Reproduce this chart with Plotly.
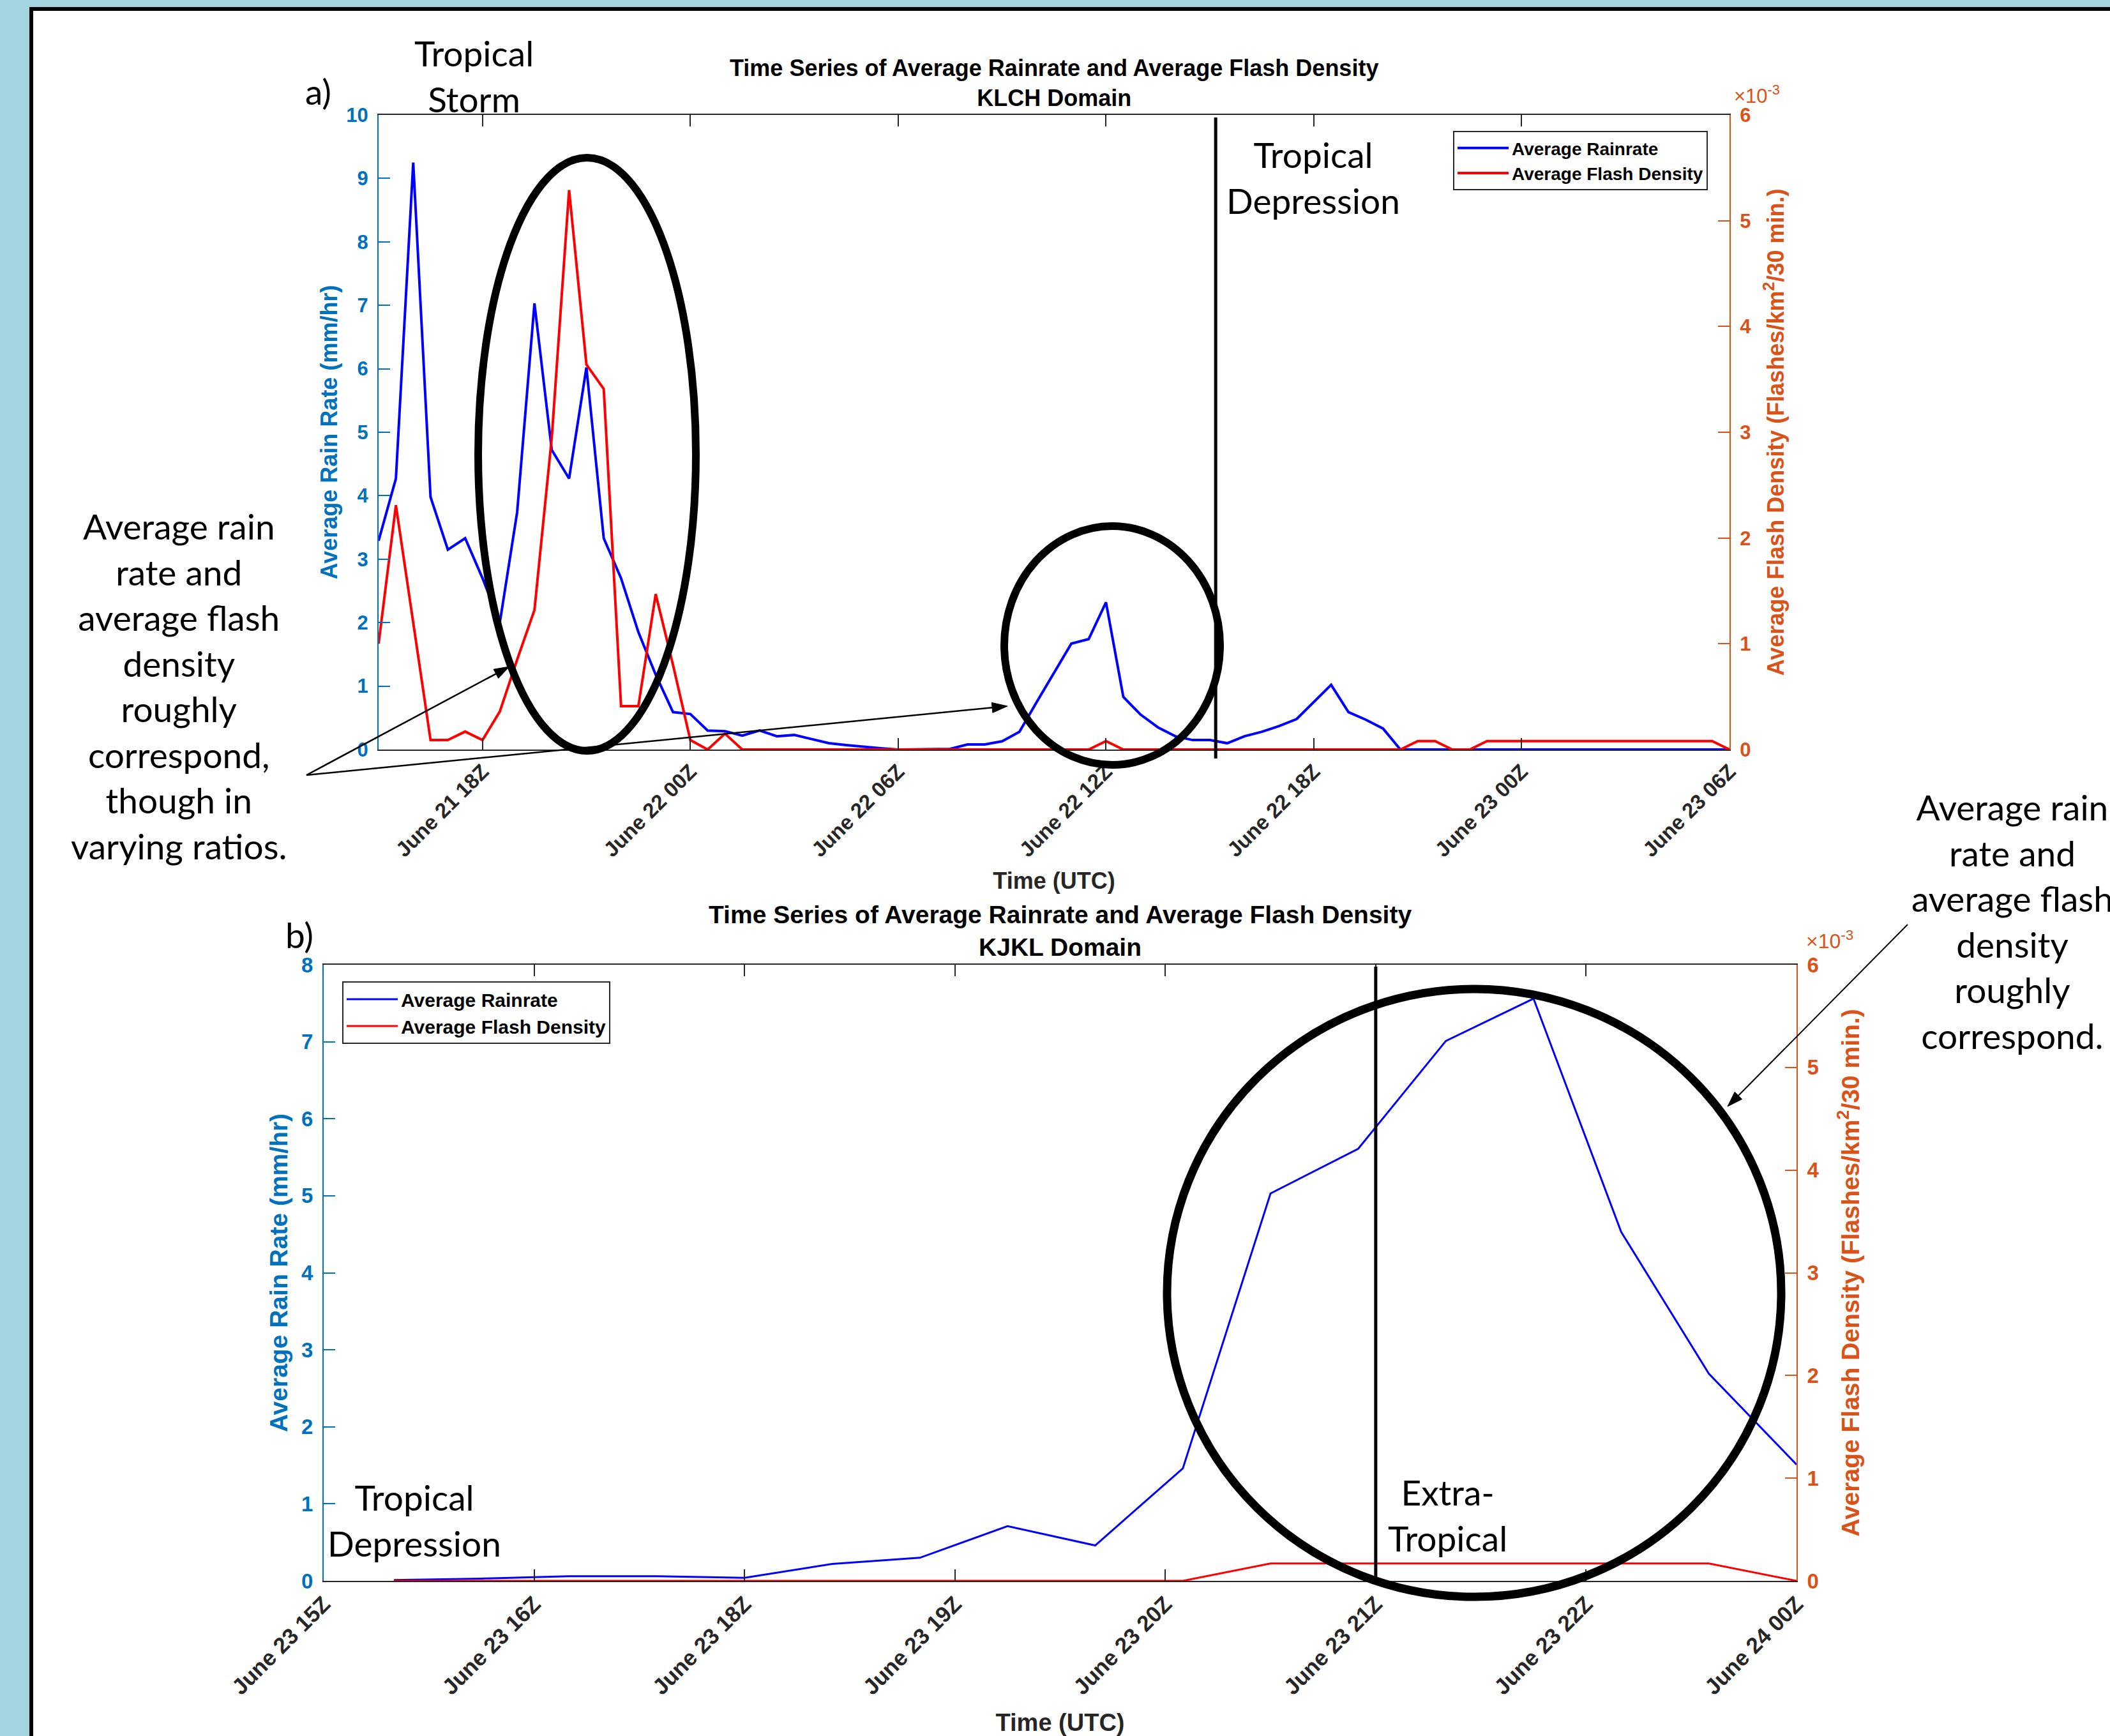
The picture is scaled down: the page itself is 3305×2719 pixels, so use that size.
import math
import pandas as pd
import plotly.graph_objects as go

W, H = 3305, 2719

# ---------------- Panel a data (KLCH domain), half-hourly ----------------
times_a = pd.date_range("2017-06-21 15:00", "2017-06-23 06:00", freq="30min")
rain_a = [3.29, 4.27, 9.25, 3.98, 3.15, 3.33, 2.70, 2.00, 3.74, 7.03,
          4.72, 4.27, 6.02, 3.33, 2.70, 1.85, 1.18, 0.59, 0.56, 0.30,
          0.29, 0.22, 0.30, 0.21, 0.23, 0.16, 0.10, 0.07, 0.04, 0.02,
          0.00, 0.00, 0.01, 0.01, 0.08, 0.08, 0.13, 0.28, 0.75, 1.22,
          1.67, 1.74, 2.32, 0.83, 0.55, 0.35, 0.21, 0.15, 0.15, 0.10,
          0.21, 0.28, 0.37, 0.48, 0.75, 1.02, 0.59, 0.47, 0.33, 0.00,
          0.00, 0.00, 0.00, 0.00, 0.00, 0.00, 0.00, 0.00, 0.00, 0.00,
          0.00, 0.00, 0.00, 0.00, 0.00, 0.00, 0.00, 0.00, 0.00]
# flash density in units of 1e-3 flashes/km^2/30 min
flash_a = [1.00, 2.31, 1.20, 0.09, 0.09, 0.17, 0.09, 0.36, 0.85, 1.32,
           2.95, 5.29, 3.64, 3.41, 0.41, 0.41, 1.47, 0.80, 0.09, 0.00,
           0.15, 0.00, 0.00, 0.00, 0.00, 0.00, 0.00, 0.00, 0.00, 0.00,
           0.00, 0.00, 0.00, 0.00, 0.00, 0.00, 0.00, 0.00, 0.00, 0.00,
           0.00, 0.00, 0.08, 0.00, 0.00, 0.00, 0.00, 0.00, 0.00, 0.00,
           0.00, 0.00, 0.00, 0.00, 0.00, 0.00, 0.00, 0.00, 0.00, 0.00,
           0.08, 0.08, 0.00, 0.00, 0.08, 0.08, 0.08, 0.08, 0.08, 0.08,
           0.08, 0.08, 0.08, 0.08, 0.08, 0.08, 0.08, 0.08, 0.00]
ticks_a = ["2017-06-21 18:00", "2017-06-22 00:00", "2017-06-22 06:00", "2017-06-22 12:00",
           "2017-06-22 18:00", "2017-06-23 00:00", "2017-06-23 06:00"]
ticklabels_a = ["June 21 18Z", "June 22 00Z", "June 22 06Z", "June 22 12Z",
                "June 22 18Z", "June 23 00Z", "June 23 06Z"]
range_a = ["2017-06-21 15:00", "2017-06-23 06:00"]
transition_a = "2017-06-22 15:10"

# ---------------- Panel b data (KJKL domain) ----------------
times_b = pd.date_range("2017-06-23 15:20", periods=17, freq="25min")
rain_b = [0.01, 0.03, 0.06, 0.06, 0.04, 0.22, 0.30, 0.71, 0.46, 1.46,
          5.03, 5.61, 7.01, 7.56, 4.53, 2.69, 1.51]
flash_b = [0.00, 0.00, 0.00, 0.00, 0.00, 0.00, 0.00, 0.00, 0.00, 0.00,
           0.17, 0.17, 0.17, 0.17, 0.17, 0.17, 0.00]
ticks_b = ["2017-06-23 15:00", "2017-06-23 16:00", "2017-06-23 17:00", "2017-06-23 18:00",
           "2017-06-23 19:00", "2017-06-23 20:00", "2017-06-23 21:00", "2017-06-23 22:00"]
ticklabels_b = ["June 23 15Z", "June 23 16Z", "June 23 18Z", "June 23 19Z",
                "June 23 20Z", "June 23 21Z", "June 23 22Z", "June 24 00Z"]
range_b = ["2017-06-23 15:00", "2017-06-23 22:00"]
transition_b = "2017-06-23 20:00"

# ---------------- styling ----------------
F_M = "Liberation Sans, Arial, Helvetica, sans-serif"
F_C = "Lato, Carlito, Calibri, sans-serif"
BLUE_AX = "#0072BD"
ORANGE_AX = "#D95319"
DARK = "#262626"
LINE_BLUE = "#0000FF"
LINE_RED = "#FF0000"


def px(x):
    return x / W


def py(y):
    return 1 - y / H


A_L, A_R, A_T, A_B = 593, 2709, 180, 1174
B_L, B_R, B_T, B_B = 507, 2814, 1511, 2476

fig = go.Figure()
fig.add_trace(go.Scatter(x=times_a, y=rain_a, mode="lines", name="Average Rainrate",
                         line=dict(color=LINE_BLUE, width=4), xaxis="x", yaxis="y", legend="legend"))
fig.add_trace(go.Scatter(x=times_a, y=flash_a, mode="lines", name="Average Flash Density",
                         line=dict(color=LINE_RED, width=4), xaxis="x", yaxis="y2", legend="legend"))
fig.add_trace(go.Scatter(x=times_b, y=rain_b, mode="lines", name="Average Rainrate",
                         line=dict(color=LINE_BLUE, width=3), xaxis="x2", yaxis="y3", legend="legend2"))
fig.add_trace(go.Scatter(x=times_b, y=flash_b, mode="lines", name="Average Flash Density",
                         line=dict(color=LINE_RED, width=3), xaxis="x2", yaxis="y4", legend="legend2"))


def xaxis_style(dom, anchor, rng, tv, tt, tsize, title_size, standoff):
    return dict(domain=dom, anchor=anchor, type="date", range=rng, tickvals=tv, ticktext=tt,
                tickangle=-45, ticks="inside", ticklen=18, tickwidth=2, tickcolor=DARK,
                showline=True, linecolor=DARK, linewidth=2, mirror="ticks",
                showgrid=False, zeroline=False, automargin=False,
                tickfont=dict(family=F_M, size=tsize, color=DARK, weight="bold"),
                title=dict(text="Time (UTC)", standoff=standoff,
                           font=dict(family=F_M, size=title_size, color=DARK, weight="bold")))


def yaxis_style(dom, anchor, rng, tv, color, tsize, title, title_size, standoff, side="left", overlay=None):
    d = dict(anchor=anchor, range=rng, tickvals=tv, ticks="inside", ticklen=18, tickwidth=2,
             tickcolor=color, showline=True, linecolor=color, linewidth=2, side=side,
             showgrid=False, zeroline=False, ticklabelstandoff=8, automargin=False,
             tickfont=dict(family=F_M, size=tsize, color=color, weight="bold"),
             title=dict(text=title, standoff=standoff,
                        font=dict(family=F_M, size=title_size, color=color, weight="bold")))
    if overlay:
        d["overlaying"] = overlay
    else:
        d["domain"] = dom
    return d


fig.update_layout(
    width=W, height=H, margin=dict(l=0, r=0, t=0, b=0, pad=0, autoexpand=False),
    paper_bgcolor="#A4D4DD", plot_bgcolor="white", showlegend=True,
    xaxis=xaxis_style([px(A_L), px(A_R)], "y", range_a, ticks_a, ticklabels_a, 33, 36, 18),
    yaxis=yaxis_style([py(A_B), py(A_T)], "x", [0, 10], list(range(0, 11)), BLUE_AX, 31,
                      "Average Rain Rate (mm/hr)", 36, 3),
    yaxis2=yaxis_style(None, "x", [0, 6], list(range(0, 7)), ORANGE_AX, 31,
                       "Average Flash Density (Flashes/km<sup>2</sup>/30 min.)", 36, 27,
                       side="right", overlay="y"),
    xaxis2=xaxis_style([px(B_L), px(B_R)], "y3", range_b, ticks_b, ticklabels_b, 35, 38, 26),
    yaxis3=yaxis_style([py(B_B), py(B_T)], "x2", [0, 8], list(range(0, 9)), BLUE_AX, 33,
                       "Average Rain Rate (mm/hr)", 39, 9),
    yaxis4=yaxis_style(None, "x2", [0, 6], list(range(0, 7)), ORANGE_AX, 33,
                       "Average Flash Density (Flashes/km<sup>2</sup>/30 min.)", 39, 36,
                       side="right", overlay="y3"),
    legend=dict(x=px(2276), y=py(205), xanchor="left", yanchor="top", bgcolor="white",
                bordercolor=DARK, borderwidth=2, itemwidth=80, tracegroupgap=0,
                font=dict(family=F_M, size=28, color="black", weight="bold")),
    legend2=dict(x=px(536), y=py(1537), xanchor="left", yanchor="top", bgcolor="white",
                 bordercolor=DARK, borderwidth=2, itemwidth=80, tracegroupgap=0,
                 font=dict(family=F_M, size=30, color="black", weight="bold")),
)

shapes = [
    # white page with black frame
    dict(type="rect", xref="paper", yref="paper", x0=px(49), y0=py(14), x1=px(3340), y1=py(2760),
         fillcolor="white", line=dict(color="black", width=6), layer="below"),
    # ellipses
    dict(type="circle", xref="paper", yref="paper", x0=px(749), x1=px(1090), y0=py(247), y1=py(1176),
         line=dict(color="black", width=12), layer="above"),
    dict(type="circle", xref="paper", yref="paper", x0=px(1573), x1=px(1911), y0=py(824), y1=py(1198),
         line=dict(color="black", width=12), layer="above"),
    dict(type="circle", xref="paper", yref="paper", x0=px(1828), x1=px(2790), y0=py(1549), y1=py(2501),
         line=dict(color="black", width=13), layer="above"),
    # phase transition lines
    dict(type="line", xref="x", yref="paper", x0=transition_a, x1=transition_a, y0=py(184), y1=py(1188),
         line=dict(color="black", width=5), layer="above"),
    dict(type="line", xref="x2", yref="paper", x0=transition_b, x1=transition_b, y0=py(1514), y1=py(2477),
         line=dict(color="black", width=5), layer="above"),
]


def arrow(tail, head, width=2.5, head_len=24, head_half=8):
    dx, dy = head[0] - tail[0], head[1] - tail[1]
    n = math.hypot(dx, dy)
    ux, uy = dx / n, dy / n
    bx, by = head[0] - ux * head_len, head[1] - uy * head_len
    shapes.append(dict(type="line", xref="paper", yref="paper",
                       x0=px(tail[0]), y0=py(tail[1]), x1=px(bx), y1=py(by),
                       line=dict(color="black", width=width), layer="above"))
    p1 = (bx - uy * head_half, by + ux * head_half)
    p2 = (bx + uy * head_half, by - ux * head_half)
    path = "M{:.5f},{:.5f} L{:.5f},{:.5f} L{:.5f},{:.5f} Z".format(
        px(head[0]), py(head[1]), px(p1[0]), py(p1[1]), px(p2[0]), py(p2[1]))
    shapes.append(dict(type="path", xref="paper", yref="paper", path=path,
                       fillcolor="black", line=dict(color="black", width=1), layer="above"))


arrow((480, 1214), (798, 1044))
arrow((480, 1214), (1578, 1106))
arrow((2988, 1448), (2706, 1733), 2)

fig.update_layout(shapes=shapes)

ann = []


def note(text, x, y, size=55):
    ann.append(dict(text=text, x=px(x), y=py(y), xref="paper", yref="paper", showarrow=False,
                    xanchor="center", yanchor="middle", align="center",
                    font=dict(family=F_C, size=size, color="black")))


note("a)", 498, 143)
note("b)", 469, 1464)
note("Tropical<br>Storm", 742, 119)
note("Tropical<br>Depression", 2057, 278)
note("Tropical<br>Depression", 649, 2381)
note("Extra-<br>Tropical", 2267, 2373)
note("Average rain<br>rate and<br>average flash<br>density<br>roughly<br>correspond,<br>though in<br>varying ratios.", 280, 1074)
note("Average rain<br>rate and<br>average flash<br>density<br>roughly<br>correspond.", 3152, 1443)

# panel titles
ann.append(dict(text="Time Series of Average Rainrate and Average Flash Density<br>KLCH Domain",
                x=px(1651), y=py(130), xref="paper", yref="paper", showarrow=False,
                xanchor="center", yanchor="middle",
                font=dict(family=F_M, size=36, color="black", weight="bold")))
ann.append(dict(text="Time Series of Average Rainrate and Average Flash Density<br>KJKL Domain",
                x=px(1660), y=py(1458), xref="paper", yref="paper", showarrow=False,
                xanchor="center", yanchor="middle",
                font=dict(family=F_M, size=39, color="black", weight="bold")))
# exponent labels
ann.append(dict(text="×10<sup>-3</sup>", x=px(2752), y=py(148), xref="paper", yref="paper",
                showarrow=False, xanchor="center", yanchor="middle",
                font=dict(family=F_M, size=31, color=ORANGE_AX)))
ann.append(dict(text="×10<sup>-3</sup>", x=px(2866), y=py(1472), xref="paper", yref="paper",
                showarrow=False, xanchor="center", yanchor="middle",
                font=dict(family=F_M, size=32, color=ORANGE_AX)))

fig.update_layout(annotations=ann)

fig.write_html("out.html", config={"displayModeBar": False},
               post_script="document.body.style.margin='0px';")
